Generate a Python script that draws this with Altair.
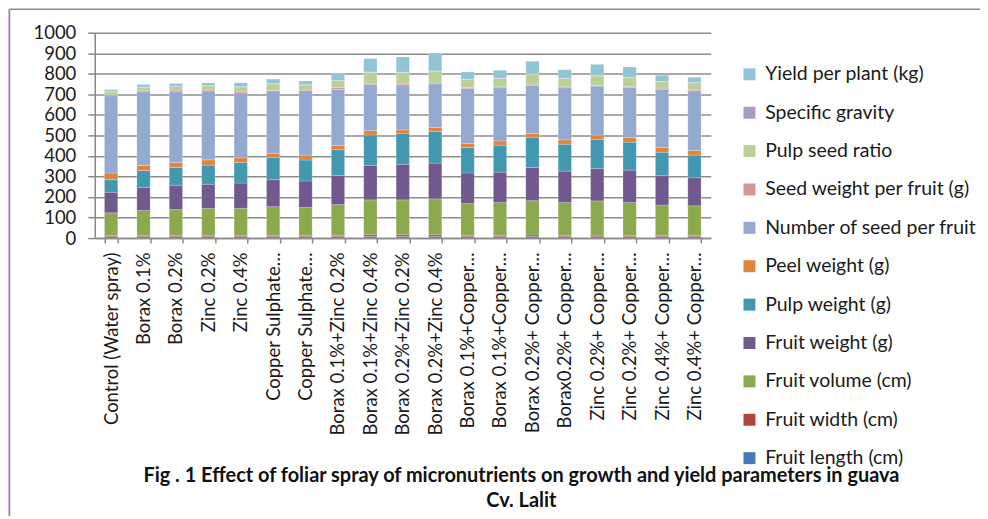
import altair as alt
import pandas as pd

labels = ["Control (Water spray)", "Borax 0.1%", "Borax 0.2%", "Zinc 0.2%", "Zinc 0.4%",
          "Copper Sulphate…", "Copper Sulphate…", "Borax 0.1%+Zinc 0.2%", "Borax 0.1%+Zinc 0.4%",
          "Borax 0.2%+Zinc 0.2%", "Borax 0.2%+Zinc 0.4%", "Borax 0.1%+Copper…", "Borax 0.1%+Copper…",
          "Borax 0.2%+ Copper…", "Borax0.2%+ Copper…", "Zinc 0.2%+ Copper…", "Zinc 0.2%+ Copper…",
          "Zinc 0.4%+ Copper…", "Zinc 0.4%+ Copper…"]

series = ["Fruit length (cm)", "Fruit width (cm)", "Fruit volume (cm)", "Fruit weight (g)",
          "Pulp weight (g)", "Peel weight (g)", "Number of seed per fruit",
          "Seed weight per fruit (g)", "Pulp seed ratio", "Specific gravity", "Yield per plant (kg)"]

fruit_length = [7, 7, 7, 7, 7, 7, 7, 7, 8, 8, 8, 7, 7, 8, 7, 7, 7, 7, 7]
fruit_width = [6, 6, 6, 6, 6, 6, 6, 6, 8, 8, 8, 6, 6, 7, 6, 7, 6, 6, 6]
fruit_volume = [110, 121, 126, 131, 132, 140, 136, 150, 170, 170, 175, 155, 160, 167, 160, 167, 160, 148, 144]
fruit_weight = [100, 113, 118, 118, 123, 131, 129, 142, 168, 173, 174, 149, 148, 162, 153, 158, 158, 143, 137]
pulp_weight = [61, 82, 87, 93, 100, 108, 102, 125, 148, 151, 155, 124, 131, 147, 131, 142, 136, 114, 110]
peel_weight = [33, 25, 24, 26, 23, 21, 24, 21, 21, 17, 19, 19, 21, 19, 21, 21, 22, 23, 22]
seed_number = [376, 358, 344, 336, 316, 304, 313, 273, 225, 219, 212, 268, 259, 233, 254, 238, 244, 284, 291]
seed_weight = [6, 5, 8, 4, 8, 3, 4, 8, 6, 5, 4, 5, 5, 6, 5, 3, 5, 5, 5]
pulp_seed_ratio = [13, 16, 18, 20, 21, 31, 24, 34, 53, 55, 57, 39, 40, 49, 40, 47, 44, 31, 34]
specific_gravity = [2, 2, 2, 2, 2, 2, 2, 2, 2, 2, 2, 2, 2, 2, 2, 2, 2, 2, 2]
yield_plant = [9, 13, 13, 13, 18, 21, 18, 33, 65, 74, 87, 35, 38, 61, 41, 54, 49, 30, 25]

values = [fruit_length, fruit_width, fruit_volume, fruit_weight, pulp_weight, peel_weight,
          seed_number, seed_weight, pulp_seed_ratio, specific_gravity, yield_plant]

colors = ["#4a7bb7", "#b5443f", "#8ba94d", "#71588f", "#4298b1", "#e0843b",
          "#94a9d0", "#d69592", "#b9d097", "#a99bc4", "#92c4d7"]

title1 = "Fig . 1 Effect of foliar spray of micronutrients on growth and yield parameters in guava"
title2 = "Cv. Lalit"

rows = []
for k, (name, vals) in enumerate(zip(series, values)):
    for i, v in enumerate(vals):
        rows.append({"idx": i, "series": name, "k": k, "value": v})
df = pd.DataFrame(rows)

FONT = "Lato"
label_expr = "[" + ",".join("'" + l + "'" for l in labels) + "][datum.value]"

bars = alt.Chart(df).mark_bar(stroke="white", strokeWidth=0.4, strokeOpacity=0.5).encode(
    x=alt.X("idx:O", title=None,
            scale=alt.Scale(paddingInner=0.59, paddingOuter=0.3),
            axis=alt.Axis(labelExpr=label_expr, labelAngle=-90, labelFontSize=18.5, labelFont=FONT,
                          labelColor="#1a1a1a", labelPadding=9, tickBand="extent", ticks=True,
                          tickSize=5, tickColor="#888888", tickWidth=1.5, domainColor="#888888",
                          domainWidth=1.5, grid=False, labelLimit=400)),
    y=alt.Y("value:Q", title=None, stack="zero",
            scale=alt.Scale(domain=[0, 1000], nice=False),
            axis=alt.Axis(values=list(range(0, 1001, 100)), format="d", labelFontSize=18.5,
                          labelFont=FONT, labelColor="#1a1a1a", tickSize=7, tickColor="#888888",
                          tickWidth=1.5, domainColor="#888888", domainWidth=1.5,
                          gridColor="#8c8c8c", gridWidth=1.5, labelPadding=12)),
    color=alt.Color("series:N",
                    scale=alt.Scale(domain=series[::-1], range=colors[::-1]),
                    legend=alt.Legend(title=None, orient="none", legendX=647, legendY=32,
                                      symbolType="square", symbolSize=144, symbolStrokeWidth=0,
                                      labelFontSize=19.5, labelFont=FONT, labelColor="#1a1a1a",
                                      labelOffset=6, rowPadding=17.5, padding=0, labelLimit=400)),
    order=alt.Order("k:Q", sort="ascending"),
)

one = pd.DataFrame({"a": [0]})

frame_left = alt.Chart(one).mark_rule(color="#8a8a8a", strokeWidth=1.5).encode(
    x=alt.value(-85.5), y=alt.value(-23.5), y2=alt.value(500))
pink_line = alt.Chart(one).mark_rule(color="#f2c4ee", strokeWidth=1.5).encode(
    x=alt.value(-86.5), y=alt.value(-24), y2=alt.value(500))
frame_top = alt.Chart(one).mark_rule(color="#8a8a8a", strokeWidth=1.5).encode(
    x=alt.value(-85.5), x2=alt.value(900), y=alt.value(-23.5))

TFONT = "Lato"
t1 = alt.Chart(pd.DataFrame({"t": [title1]})).mark_text(
    font=TFONT, fontWeight="bold", fontSize=20, color="#111111", align="center").encode(
    x=alt.value(428), y=alt.value(445), text="t:N")
t2 = alt.Chart(pd.DataFrame({"t": [title2]})).mark_text(
    font=TFONT, fontWeight="bold", fontSize=20, color="#111111", align="center").encode(
    x=alt.value(428), y=alt.value(470), text="t:N")

chart = alt.layer(bars, pink_line, frame_left, frame_top, t1, t2).properties(
    width=618, height=206,
    autosize=alt.AutoSizeParams(type="none"),
    padding={"left": 87, "top": 24, "right": 270, "bottom": 278},
    background="white",
).configure_view(stroke=None)

chart.save("out.html", embed_options={"renderer": "svg", "actions": False})
